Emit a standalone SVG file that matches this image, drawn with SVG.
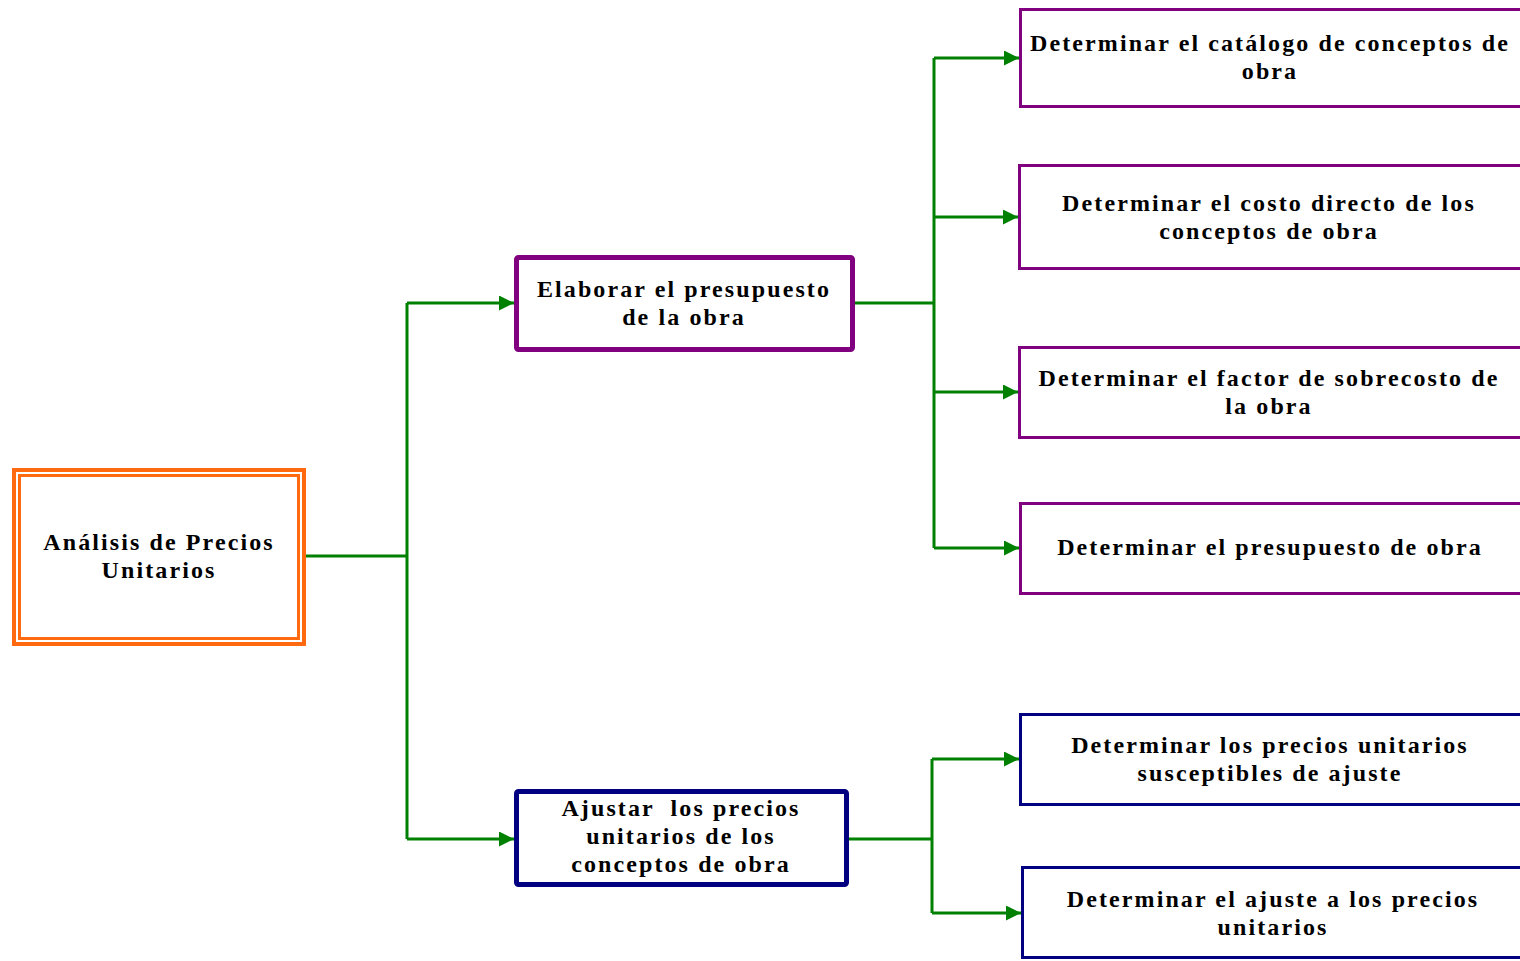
<svg xmlns="http://www.w3.org/2000/svg" width="1520" height="961" viewBox="0 0 1520 961">
<defs>
<marker id="arr" viewBox="0 0 10 10" refX="10" refY="5" markerWidth="5" markerHeight="5" markerUnits="strokeWidth" orient="auto">
<path d="M0,0 L10,5 L0,10 z" fill="#008000"/>
</marker>
<style>
text{font-family:"Liberation Serif","DejaVu Serif",serif;font-weight:bold;font-size:24px;letter-spacing:2.1px;fill:#000;text-anchor:middle;white-space:pre}
.pu{fill:#fff;stroke:#800080;stroke-width:3}
.nv{fill:#fff;stroke:#000080;stroke-width:3}
.c{fill:none;stroke:#008000;stroke-width:3}
</style>
</defs>
<rect width="1520" height="961" fill="#fff"/>
<g id="connectors">
<path class="c" d="M305,556 H407 M407,303 V839"/>
<path class="c" d="M407,303 H514" marker-end="url(#arr)"/>
<path class="c" d="M407,839 H514" marker-end="url(#arr)"/>
<path class="c" d="M853,303 H934 M934,58 V548"/>
<path class="c" d="M934,58 H1019" marker-end="url(#arr)"/>
<path class="c" d="M934,217 H1018" marker-end="url(#arr)" stroke-width="4"/>
<path class="c" d="M934,392 H1018" marker-end="url(#arr)" stroke-width="4"/>
<path class="c" d="M934,548 H1019" marker-end="url(#arr)"/>
<path class="c" d="M847,839 H932 M932,759 V913"/>
<path class="c" d="M932,759 H1019" marker-end="url(#arr)"/>
<path class="c" d="M932,913 H1021" marker-end="url(#arr)" stroke-width="4"/>
</g>
<g id="root">
<rect x="14" y="470" width="290" height="174" fill="#fff" stroke="#ff6a10" stroke-width="4"/>
<rect x="19.5" y="475.5" width="279" height="163" fill="none" stroke="#ff6a10" stroke-width="3"/>
<text x="159" y="550">Análisis de Precios</text>
<text x="159" y="578">Unitarios</text>
</g>
<g id="elaborar">
<rect x="516.5" y="257.5" width="336" height="92" rx="2" fill="#fff" stroke="#800080" stroke-width="5"/>
<text x="684" y="297">Elaborar el presupuesto</text>
<text x="684" y="325">de la obra</text>
</g>
<g id="ajustar">
<rect x="516.5" y="791.5" width="330" height="93" rx="2" fill="#fff" stroke="#000080" stroke-width="5"/>
<text x="681" y="816">Ajustar  los precios</text>
<text x="681" y="844">unitarios de los</text>
<text x="681" y="872">conceptos de obra</text>
</g>
<g id="catalogo">
<rect class="pu" x="1020.5" y="9.5" width="502" height="97"/>
<text x="1270" y="51">Determinar el catálogo de conceptos de</text>
<text x="1270" y="79">obra</text>
</g>
<g id="costo">
<rect class="pu" x="1019.5" y="165.5" width="503" height="103"/>
<text x="1269" y="211">Determinar el costo directo de los</text>
<text x="1269" y="239">conceptos de obra</text>
</g>
<g id="factor">
<rect class="pu" x="1019.5" y="347.5" width="503" height="90"/>
<text x="1269" y="386">Determinar el factor de sobrecosto de</text>
<text x="1269" y="414">la obra</text>
</g>
<g id="presupuesto">
<rect class="pu" x="1020.5" y="503.5" width="502" height="90"/>
<text x="1270" y="555">Determinar el presupuesto de obra</text>
</g>
<g id="susceptibles">
<rect class="nv" x="1020.5" y="714.5" width="502" height="90"/>
<text x="1270" y="753">Determinar los precios unitarios</text>
<text x="1270" y="781">susceptibles de ajuste</text>
</g>
<g id="ajuste">
<rect class="nv" x="1022.5" y="867.5" width="500" height="90"/>
<text x="1273" y="907">Determinar el ajuste a los precios</text>
<text x="1273" y="935">unitarios</text>
</g>
</svg>
